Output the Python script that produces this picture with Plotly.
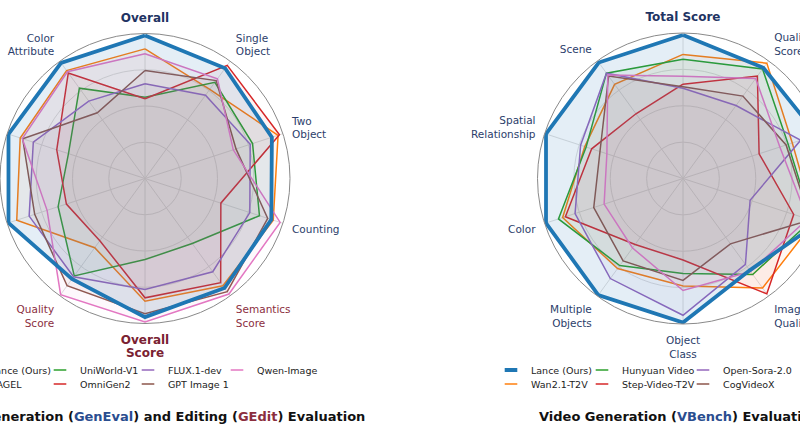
import plotly.graph_objects as go

# ---------------- data ----------------
img_axes = ["Overall", "Single Object", "Two Object", "Counting", "Semantics Score",
            "Overall Score", "Quality Score", "Position", "Colors", "Color Attribute"]
img_models = ["Lance (Ours)", "BAGEL", "UniWorld-V1", "OmniGen2", "FLUX.1-dev", "GPT Image 1", "Qwen-Image"]
img_lance = [0.986, 0.94, 0.92, 0.916, 0.933, 0.956, 0.857, 0.99, 0.99, 0.985]
img_bagel = [0.894, 0.76, 0.965, 0.93, 0.914, 0.846, 0.59, 0.93, 0.905, 0.92]
img_uniworld = [0.56, 0.82, 0.78, 0.83, 0.554, 0.559, 0.83, 0.63, 0.555, 0.77]
img_omnigen2 = [0.55, 0.965, 0.975, 0.55, 0.888, 0.823, 0.53, 0.57, 0.64, 0.90]
img_flux = [0.653, 0.71, 0.763, 0.76, 0.795, 0.766, 0.838, 0.84, 0.81, 0.66]
img_gpt = [0.745, 0.835, 0.66, 0.89, 0.965, 0.933, 0.914, 0.80, 0.887, 0.56]
img_qwen = [0.86, 0.85, 0.64, 0.98, 0.985, 0.99, 0.99, 0.71, 0.89, 0.91]

vid_axes = ["Total Score", "Quality Score", "Semantic Score", "Dynamic Degree", "Image Quality",
            "Object Class", "Multiple Objects", "Color", "Spatial Relationship", "Scene"]
vid_models = ["Lance (Ours)", "Wan2.1-T2V", "Hunyuan Video", "Step-Video-T2V", "Open-Sora-2.0", "CogVideoX", "LTX-Video"]
vid_lance = [0.986, 0.94, 0.97, 0.98, 0.78, 0.99, 0.99, 0.99, 0.99, 0.985]
vid_wan = [0.853, 0.98, 0.79, 0.95, 0.93, 0.738, 0.765, 0.87, 0.71, 0.80]
vid_hunyuan = [0.82, 0.93, 0.76, 0.93, 0.815, 0.653, 0.74, 0.90, 0.70, 0.895]
vid_step = [0.648, 0.87, 0.55, 0.80, 0.98, 0.56, 0.56, 0.85, 0.66, 0.55]
vid_opensora = [0.62, 0.62, 0.85, 0.485, 0.73, 0.94, 0.85, 0.78, 0.74, 0.895]
vid_cog = [0.63, 0.70, 0.745, 0.92, 0.555, 0.70, 0.70, 0.645, 0.60, 0.87]
vid_ltx = [0.703, 0.85, 0.70, 0.90, 0.79, 0.77, 0.59, 0.57, 0.55, 0.88]

# ---------------- styles ----------------
FONT = "DejaVu Sans"
NAVY = "#2c3e6b"
NAVY_B = "#1f3463"
RED = "#8b2e3e"
RED_B = "#7a2232"
BLUE_T = "#2a4d8f"

COL = {"blue": "#1f77b4", "orange": "#ff7f0e", "green": "#2ca02c", "red": "#d62728",
       "purple": "#9467bd", "brown": "#8c564b", "pink": "#e377c2"}


def rgba(hexc, a):
    h = hexc.lstrip("#")
    return "rgba(%d,%d,%d,%.3f)" % (int(h[0:2], 16), int(h[2:4], 16), int(h[4:6], 16), a)


def lbl(text, color, bold=False, size=None):
    out = []
    for p in text.split(" "):
        st = "color:%s" % color
        if size:
            st += ";font-size:%spx" % size
        s = "<span style='%s'>%s</span>" % (st, p)
        if bold:
            s = "<b>" + s + "</b>"
        out.append(s)
    return "<br>".join(out)


img_ticktext = [
    lbl("Overall", NAVY_B, True, 12),
    lbl("Single Object", NAVY), lbl("Two Object", NAVY), lbl("Counting", NAVY),
    lbl("Semantics Score", RED), lbl("Overall Score", RED_B, True, 12), lbl("Quality Score", RED),
    lbl("Position", NAVY), lbl("Colors", NAVY), lbl("Color Attribute", NAVY),
]
vid_ticktext = [
    "<b><span style='color:%s;font-size:12px'>Total Score</span></b>" % NAVY_B,
    lbl("Quality Score", NAVY), lbl("Semantic Score", NAVY), lbl("Dynamic Degree", NAVY),
    lbl("Image Quality", NAVY), lbl("Object Class", NAVY), lbl("Multiple Objects", NAVY),
    lbl("Color", NAVY), lbl("Spatial Relationship", NAVY), lbl("Scene", NAVY),
]

fig = go.Figure()


def add(values, cats, name, color, subplot, width=1.5, fill_a=0.055):
    fig.add_trace(go.Scatterpolar(
        r=values + values[:1], theta=cats + cats[:1], name=name, subplot=subplot,
        mode="lines", line=dict(color=color, width=width),
        fill="toself", fillcolor=rgba(color, fill_a),
        showlegend=False, hoverinfo="skip",
    ))


def leg(name, color, subplot, legend, rank, lw, width=1.5):
    # legend-only entry (no data): short horizontal line symbol like the reference
    fig.add_trace(go.Scatterpolar(
        r=[None], theta=[None], name=name, subplot=subplot, mode="markers",
        marker=dict(symbol="line-ew-open", size=9, color=color,
                    line=dict(color=color, width=width)),
        legend=legend, legendrank=rank, legendwidth=lw, hoverinfo="skip",
    ))


# left (image) chart: others first, Lance on top
add(img_bagel, img_axes, img_models[1], COL["orange"], "polar")
add(img_uniworld, img_axes, img_models[2], COL["green"], "polar")
add(img_omnigen2, img_axes, img_models[3], COL["red"], "polar")
add(img_flux, img_axes, img_models[4], COL["purple"], "polar")
add(img_gpt, img_axes, img_models[5], COL["brown"], "polar")
add(img_qwen, img_axes, img_models[6], COL["pink"], "polar")
add(img_lance, img_axes, img_models[0], COL["blue"], "polar", width=3.8, fill_a=0.12)

leg(img_models[0], COL["blue"], "polar", "legend", 1, 45, width=4)
leg(img_models[2], COL["green"], "polar", "legend", 2, 43)
leg(img_models[4], COL["purple"], "polar", "legend", 3, 44)
leg(img_models[6], COL["pink"], "polar", "legend", 4, 70)
leg(img_models[1], COL["orange"], "polar", "legend2", 1, 45)
leg(img_models[3], COL["red"], "polar", "legend2", 2, 43)
leg(img_models[5], COL["brown"], "polar", "legend2", 3, 75)

# right (video) chart
add(vid_wan, vid_axes, vid_models[1], COL["orange"], "polar2")
add(vid_hunyuan, vid_axes, vid_models[2], COL["green"], "polar2")
add(vid_step, vid_axes, vid_models[3], COL["red"], "polar2")
add(vid_opensora, vid_axes, vid_models[4], COL["purple"], "polar2")
add(vid_cog, vid_axes, vid_models[5], COL["brown"], "polar2")
add(vid_ltx, vid_axes, vid_models[6], COL["pink"], "polar2")
add(vid_lance, vid_axes, vid_models[0], COL["blue"], "polar2", width=3.8, fill_a=0.12)

leg(vid_models[0], COL["blue"], "polar2", "legend3", 1, 46, width=4)
leg(vid_models[2], COL["green"], "polar2", "legend3", 2, 56)
leg(vid_models[4], COL["purple"], "polar2", "legend3", 3, 60)
leg(vid_models[6], COL["pink"], "polar2", "legend3", 4, 70)
leg(vid_models[1], COL["orange"], "polar2", "legend4", 1, 46)
leg(vid_models[3], COL["red"], "polar2", "legend4", 2, 56)
leg(vid_models[5], COL["brown"], "polar2", "legend4", 3, 70)

W, H = 1000, 445
ydom = [(H - 324) / H, (H - 33) / H]


def polar_cfg(xdom, cats, ticktext):
    return dict(
        domain=dict(x=xdom, y=ydom),
        bgcolor="white",
        radialaxis=dict(range=[0, 1], tickmode="array", tickvals=[0.25, 0.5, 0.75],
                        showticklabels=False, ticks="", showline=False,
                        gridcolor="#dedede", gridwidth=0.8),
        angularaxis=dict(direction="clockwise", rotation=90, type="category",
                         categoryarray=cats, tickmode="array", tickvals=cats, ticktext=ticktext,
                         ticks="outside", ticklen=7, tickcolor="rgba(0,0,0,0)",
                         showline=True, linecolor="#8a8a8a", linewidth=1,
                         gridcolor="#dedede", gridwidth=0.8,
                         tickfont=dict(family=FONT, size=10.5, color=NAVY)),
    )


leg_common = dict(orientation="h", xanchor="left", yanchor="middle", bgcolor="rgba(0,0,0,0)",
                  font=dict(family=FONT, size=9.5, color="#222"), tracegroupgap=0,
                  itemwidth=30, itemsizing="trace")

fig.update_layout(
    width=W, height=H,
    margin=dict(l=0, r=0, t=0, b=0, autoexpand=False),
    paper_bgcolor="white",
    font=dict(family=FONT),
    polar=polar_cfg([0, 290 / W], img_axes, img_ticktext),
    polar2=polar_cfg([537 / W, 829 / W], vid_axes, vid_ticktext),
    legend=dict(x=-50 / W, y=1 - 370 / H, **leg_common),
    legend2=dict(x=-50 / W, y=1 - 384 / H, **leg_common),
    legend3=dict(x=491 / W, y=1 - 370 / H, **leg_common),
    legend4=dict(x=491 / W, y=1 - 384 / H, **leg_common),
    annotations=[
        dict(x=148.5 / W, y=1 - 416 / H, xref="paper", yref="paper", showarrow=False,
             xanchor="center", yanchor="middle",
             text="<b>Image Generation (<span style='color:%s'>GenEval</span>) and Editing "
                  "(<span style='color:%s'>GEdit</span>) Evaluation</b>" % (BLUE_T, RED),
             font=dict(family=FONT, size=13, color="#111")),
        dict(x=679 / W, y=1 - 416 / H, xref="paper", yref="paper", showarrow=False,
             xanchor="center", yanchor="middle",
             text="<b>Video Generation (<span style='color:%s'>VBench</span>) Evaluation</b>" % BLUE_T,
             font=dict(family=FONT, size=13, color="#111")),
    ],
)

fig.write_html("out.html",
               post_script="document.documentElement.style.overflow='hidden';"
                           "document.body.style.overflow='hidden';")
